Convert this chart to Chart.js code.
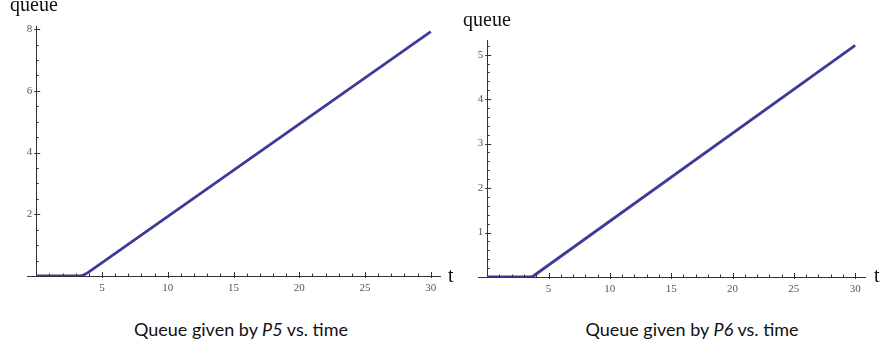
<!DOCTYPE html>
<html>
<head>
<meta charset="utf-8">
<script src="https://cdn.jsdelivr.net/npm/chart.js@4.4.1/dist/chart.umd.min.js"></script>
<style>
  body { margin: 0; background: #fff; }
  #wrap { position: relative; width: 880px; height: 350px; overflow: hidden; }
  canvas { position: absolute; top: 0; }
  .lbl { position: absolute; font-family: "Liberation Serif", serif; font-size: 20px; line-height: 20px; color: #111; white-space: nowrap; }
  .cap { position: absolute; font-family: Lato, "Open Sans", sans-serif; font-size: 18px; line-height: 18px; color: #111; white-space: nowrap; transform: translateX(-50%); }
</style>
</head>
<body>
<div id="wrap">
  <canvas id="c5" width="450" height="300" style="left:0px"></canvas>
  <canvas id="c6" width="430" height="300" style="left:450px"></canvas>
  <span class="lbl" style="left:10px;top:-6px">queue</span>
  <span class="lbl" style="left:463px;top:9px">queue</span>
  <span class="lbl" style="left:448px;top:265px">t</span>
  <span class="lbl" style="left:874px;top:265px">t</span>
  <div class="cap" style="left:241px;top:320px">Queue given by <i>P5</i> vs. time</div>
  <div class="cap" style="left:692px;top:320px">Queue given by <i>P6</i> vs. time</div>
</div>
<script>
// data
const t5 = [0, 3.3, 3.6, 3.9, 4.2, 30];
const q5 = [0, 0, 0.03, 0.1, 0.19, 7.92];
const t6 = [0, 3.55, 3.8, 4.1, 30];
const q6 = [0, 0, 0.03, 0.09, 5.21];

const xLabels = [5, 10, 15, 20, 25, 30];
const yLabels5 = [2, 4, 6, 8];
const yLabels6 = [1, 2, 3, 4, 5];

const lineColor = '#3c3c98';
const tickFont = '11px "Liberation Serif"';

function isMajor(v, list) {
  return list.some(m => Math.abs(m - v) < 1e-6);
}

// Mathematica style ticks pointing into the plot, y labels left of the axis
const inwardTicks = {
  id: 'inwardTicks',
  afterDraw(chart) {
    const ctx = chart.ctx;
    const xs = chart.scales.x, ys = chart.scales.y;
    const x0 = xs.getPixelForValue(0), y0 = ys.getPixelForValue(0);
    ctx.save();
    ctx.strokeStyle = '#333';
    ctx.lineWidth = 1;
    ctx.beginPath();
    xs.ticks.forEach(tk => {
      if (tk.value <= 0) return;
      const px = Math.round(xs.getPixelForValue(tk.value)) + 0.5;
      const major = isMajor(tk.value, xs.options.majorList);
      ctx.moveTo(px, y0 + (major ? 2 : 0));
      ctx.lineTo(px, y0 - (major ? 4 : 2.5));
    });
    ys.ticks.forEach(tk => {
      if (tk.value <= 0) return;
      const py = Math.round(ys.getPixelForValue(tk.value)) + 0.5;
      const major = isMajor(tk.value, ys.options.majorList);
      ctx.moveTo(x0 - (major ? 2 : 0), py);
      ctx.lineTo(x0 + (major ? 4 : 2.5), py);
    });
    ctx.stroke();
    ctx.fillStyle = '#555';
    ctx.font = tickFont;
    ctx.textAlign = 'right';
    ctx.textBaseline = 'middle';
    ys.options.majorList.forEach(v => {
      ctx.fillText(String(v), x0 - 4, ys.getPixelForValue(v));
    });
    ctx.restore();
  }
};

function makeChart(id, ts, qs, xr, yMax, yStep, yMajor, pad) {
  const pts = ts.map((t, i) => ({ x: t, y: qs[i] }));
  return new Chart(document.getElementById(id), {
    type: 'scatter',
    data: {
      datasets: [{
        data: pts,
        showLine: true,
        borderColor: lineColor,
        borderWidth: 2.8,
        pointRadius: 0,
        tension: 0
      }]
    },
    options: {
      responsive: false,
      animation: false,
      devicePixelRatio: 1,
      layout: { padding: pad },
      plugins: { legend: { display: false }, tooltip: { enabled: false } },
      scales: {
        x: {
          type: 'linear',
          position: { y: 0 },
          min: xr[0],
          max: xr[1],
          majorList: xLabels,
          grid: { display: true, drawOnChartArea: false, drawTicks: false },
          border: { display: true, color: '#333', width: 1 },
          ticks: {
            stepSize: 1,
            includeBounds: false,
            autoSkip: false,
            maxRotation: 0,
            padding: 6,
            color: '#555',
            font: { family: 'Liberation Serif', size: 11 },
            callback: v => isMajor(v, xLabels) ? String(Math.round(v)) : ''
          }
        },
        y: {
          type: 'linear',
          position: { x: 0 },
          min: 0,
          max: yMax,
          majorList: yMajor,
          grid: { display: true, drawOnChartArea: false, drawTicks: false },
          border: { display: true, color: '#333', width: 1 },
          ticks: {
            display: false,
            stepSize: yStep,
            includeBounds: false,
            autoSkip: false
          }
        }
      }
    },
    plugins: [inwardTicks]
  });
}

makeChart('c5', t5, q5, [-0.7, 30.7], 8.1, 0.5, yLabels5, { left: 27, top: 26, right: 10, bottom: 24 });
makeChart('c6', t6, q6, [-0.75, 30.8], 5.33, 0.2, yLabels6, { left: 28, top: 40, right: 15, bottom: 23 });
</script>
</body>
</html>
